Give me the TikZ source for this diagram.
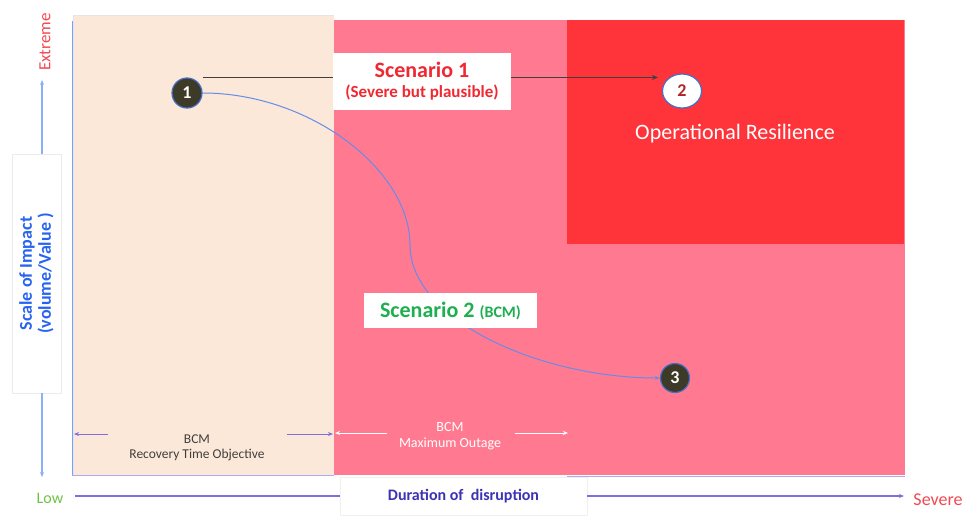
\documentclass[tikz,border=0pt]{standalone}
\usepackage{fontspec}
\setmainfont{Carlito}
\usetikzlibrary{arrows.meta,shapes.geometric}

\definecolor{peachzone}{RGB}{251,232,216}
\definecolor{pinkzone}{RGB}{255,122,145}
\definecolor{redzone}{RGB}{255,51,58}
\definecolor{axisblue}{RGB}{140,175,250}
\definecolor{edgeblue}{RGB}{120,160,250}
\definecolor{lilac}{RGB}{125,110,225}
\definecolor{ringblue}{RGB}{70,110,200}
\definecolor{darkdot}{RGB}{62,58,40}
\definecolor{sceneone}{RGB}{240,40,50}
\definecolor{scenetwo}{RGB}{30,175,80}
\definecolor{lowgreen}{RGB}{110,195,70}
\definecolor{durtext}{RGB}{60,50,180}
\definecolor{impacttext}{RGB}{40,100,240}
\definecolor{curveblue}{RGB}{100,140,235}

\newcommand{\px}[1]{\fontsize{#1}{#1}\selectfont}

\tikzset{
  darkstep/.style={circle, draw=ringblue, line width=1.2pt, fill=darkdot,
    text=white, font=\px{18}\bfseries, minimum size=30pt, inner sep=0pt},
  whitestep/.style={ellipse, draw=ringblue, line width=1.2pt, fill=white,
    text=redzone!70!black, font=\px{18}\bfseries, minimum width=39pt,
    minimum height=34pt, inner sep=0pt},
  labelbox/.style={fill=white, inner sep=0pt, align=center},
  smalltip/.style={-{Stealth[length=5pt,width=4pt]}},
}

\begin{document}
\begin{tikzpicture}[x=1pt,y=-1pt]
		%%%%% START %%%%%
		\useasboundingbox (0,0) rectangle (973,515);
		
		% zones
		\fill[peachzone] (73,15) rectangle (334,475);
		\draw[black!10] (73,475) -- (73,15) -- (334,15);
		\fill[pinkzone] (334,20) rectangle (905,475);
		\fill[redzone] (567,20) rectangle (904,244);
		
		\draw[edgeblue, line width=1pt] (72,21) -- (72,475);
		\draw[lilac!60, line width=1pt] (72,475.5) -- (334,475.5);
		\draw[lilac!60, line width=1pt] (567,476) -- (905,476);
		
		% vertical axis
		\node[labelbox, draw=black!8, rotate=90, minimum width=239pt, minimum height=49pt,
		  text=impacttext, font=\px{18}\bfseries] (impact) at (36.5,273.5)
		  {Scale of Impact\\[1pt](volume/Value )};
		\node[rotate=90, text=sceneone!85, font=\px{17}] (extreme) at (45,42) {Extreme};
		\coordinate (ytop) at (42,80);
		\coordinate (ybot) at (42,477);
		\draw[axisblue, line width=2pt, smalltip] (impact.east -| ytop) -- (ytop);
		\draw[axisblue, line width=2pt, smalltip] (impact.west -| ybot) -- (ybot);
		
		% horizontal axis
		\node[labelbox, draw=black!6, minimum width=247pt, minimum height=38pt,
		  text=durtext, font=\px{16}\bfseries] (dur) at (463.5,496) {Duration of\ \ disruption};
		\node[text=lowgreen, font=\px{16}] (low) at (50,498) {Low};
		\node[text=sceneone!85, font=\px{18}] (severe) at (938,500) {Severe};
		\coordinate (xstart) at (75,496);
		\coordinate (xend) at (904,496);
		\draw[lilac, line width=1.5pt] (xstart) -- (dur.west);
		\draw[lilac, line width=1.5pt, smalltip] (dur.east) -- (xend);
		
		% numbered steps
		\node[darkstep] (one) at (187,93) {1};
		\node[whitestep] (two) at (682,91) {2};
		\node[darkstep, minimum size=29pt] (three) at (675,378) {3};
		\node[text=white, font=\px{22}] (resil) at (735,134) {Operational Resilience};
		
		% scenario 1
		\draw[black!75, line width=1.2pt, -{Stealth[length=6pt,width=5pt]}, shorten >=4pt]
		  (one.north -| one.east) -- (one.north -| two.west);
		\node[labelbox, minimum width=178pt, minimum height=57pt, text=sceneone] (sceneA) at (422,81.5)
		  {{\px{22}\bfseries Scenario 1}\\[6pt]{\px{17}\bfseries (Severe but plausible)}};
		
		% scenario 2
		\coordinate (bend) at (410,245);
		\draw[curveblue, line width=1pt, smalltip]
		  (one.east) .. controls (310,93) and (410,170) .. (bend)
		  .. controls (410,320) and (540,378) .. (three.west);
		\node[labelbox, minimum width=173pt, minimum height=35pt, text=scenetwo] (sceneB) at (450.5,310.5)
		  {{\px{22}\bfseries Scenario 2 }{\px{16}\bfseries (BCM)}};
		
		% BCM spans
		\node[align=center, text=black!75, font=\px{13.5}] (rto) at (197,448) {BCM\\[2pt]Recovery Time Objective};
		\coordinate (rtoL) at (74,434);
		\coordinate (rtoR) at (333,434);
		\draw[lilac, line width=1pt, smalltip] (108,434) -- (rtoL);
		\draw[lilac, line width=1pt, smalltip] (287,434) -- (rtoR);
		
		\node[align=center, text=white, font=\px{14}] (outage) at (450,436) {BCM\\[2pt]Maximum Outage};
		\coordinate (moL) at (335,433);
		\coordinate (moR) at (568,433);
		\draw[white, line width=1pt, smalltip] (387,433) -- (moL);
		\draw[white, line width=1pt, smalltip] (515,433) -- (moR);
		
		%%%%% END %%%%%
	\end{tikzpicture}
\end{document}
